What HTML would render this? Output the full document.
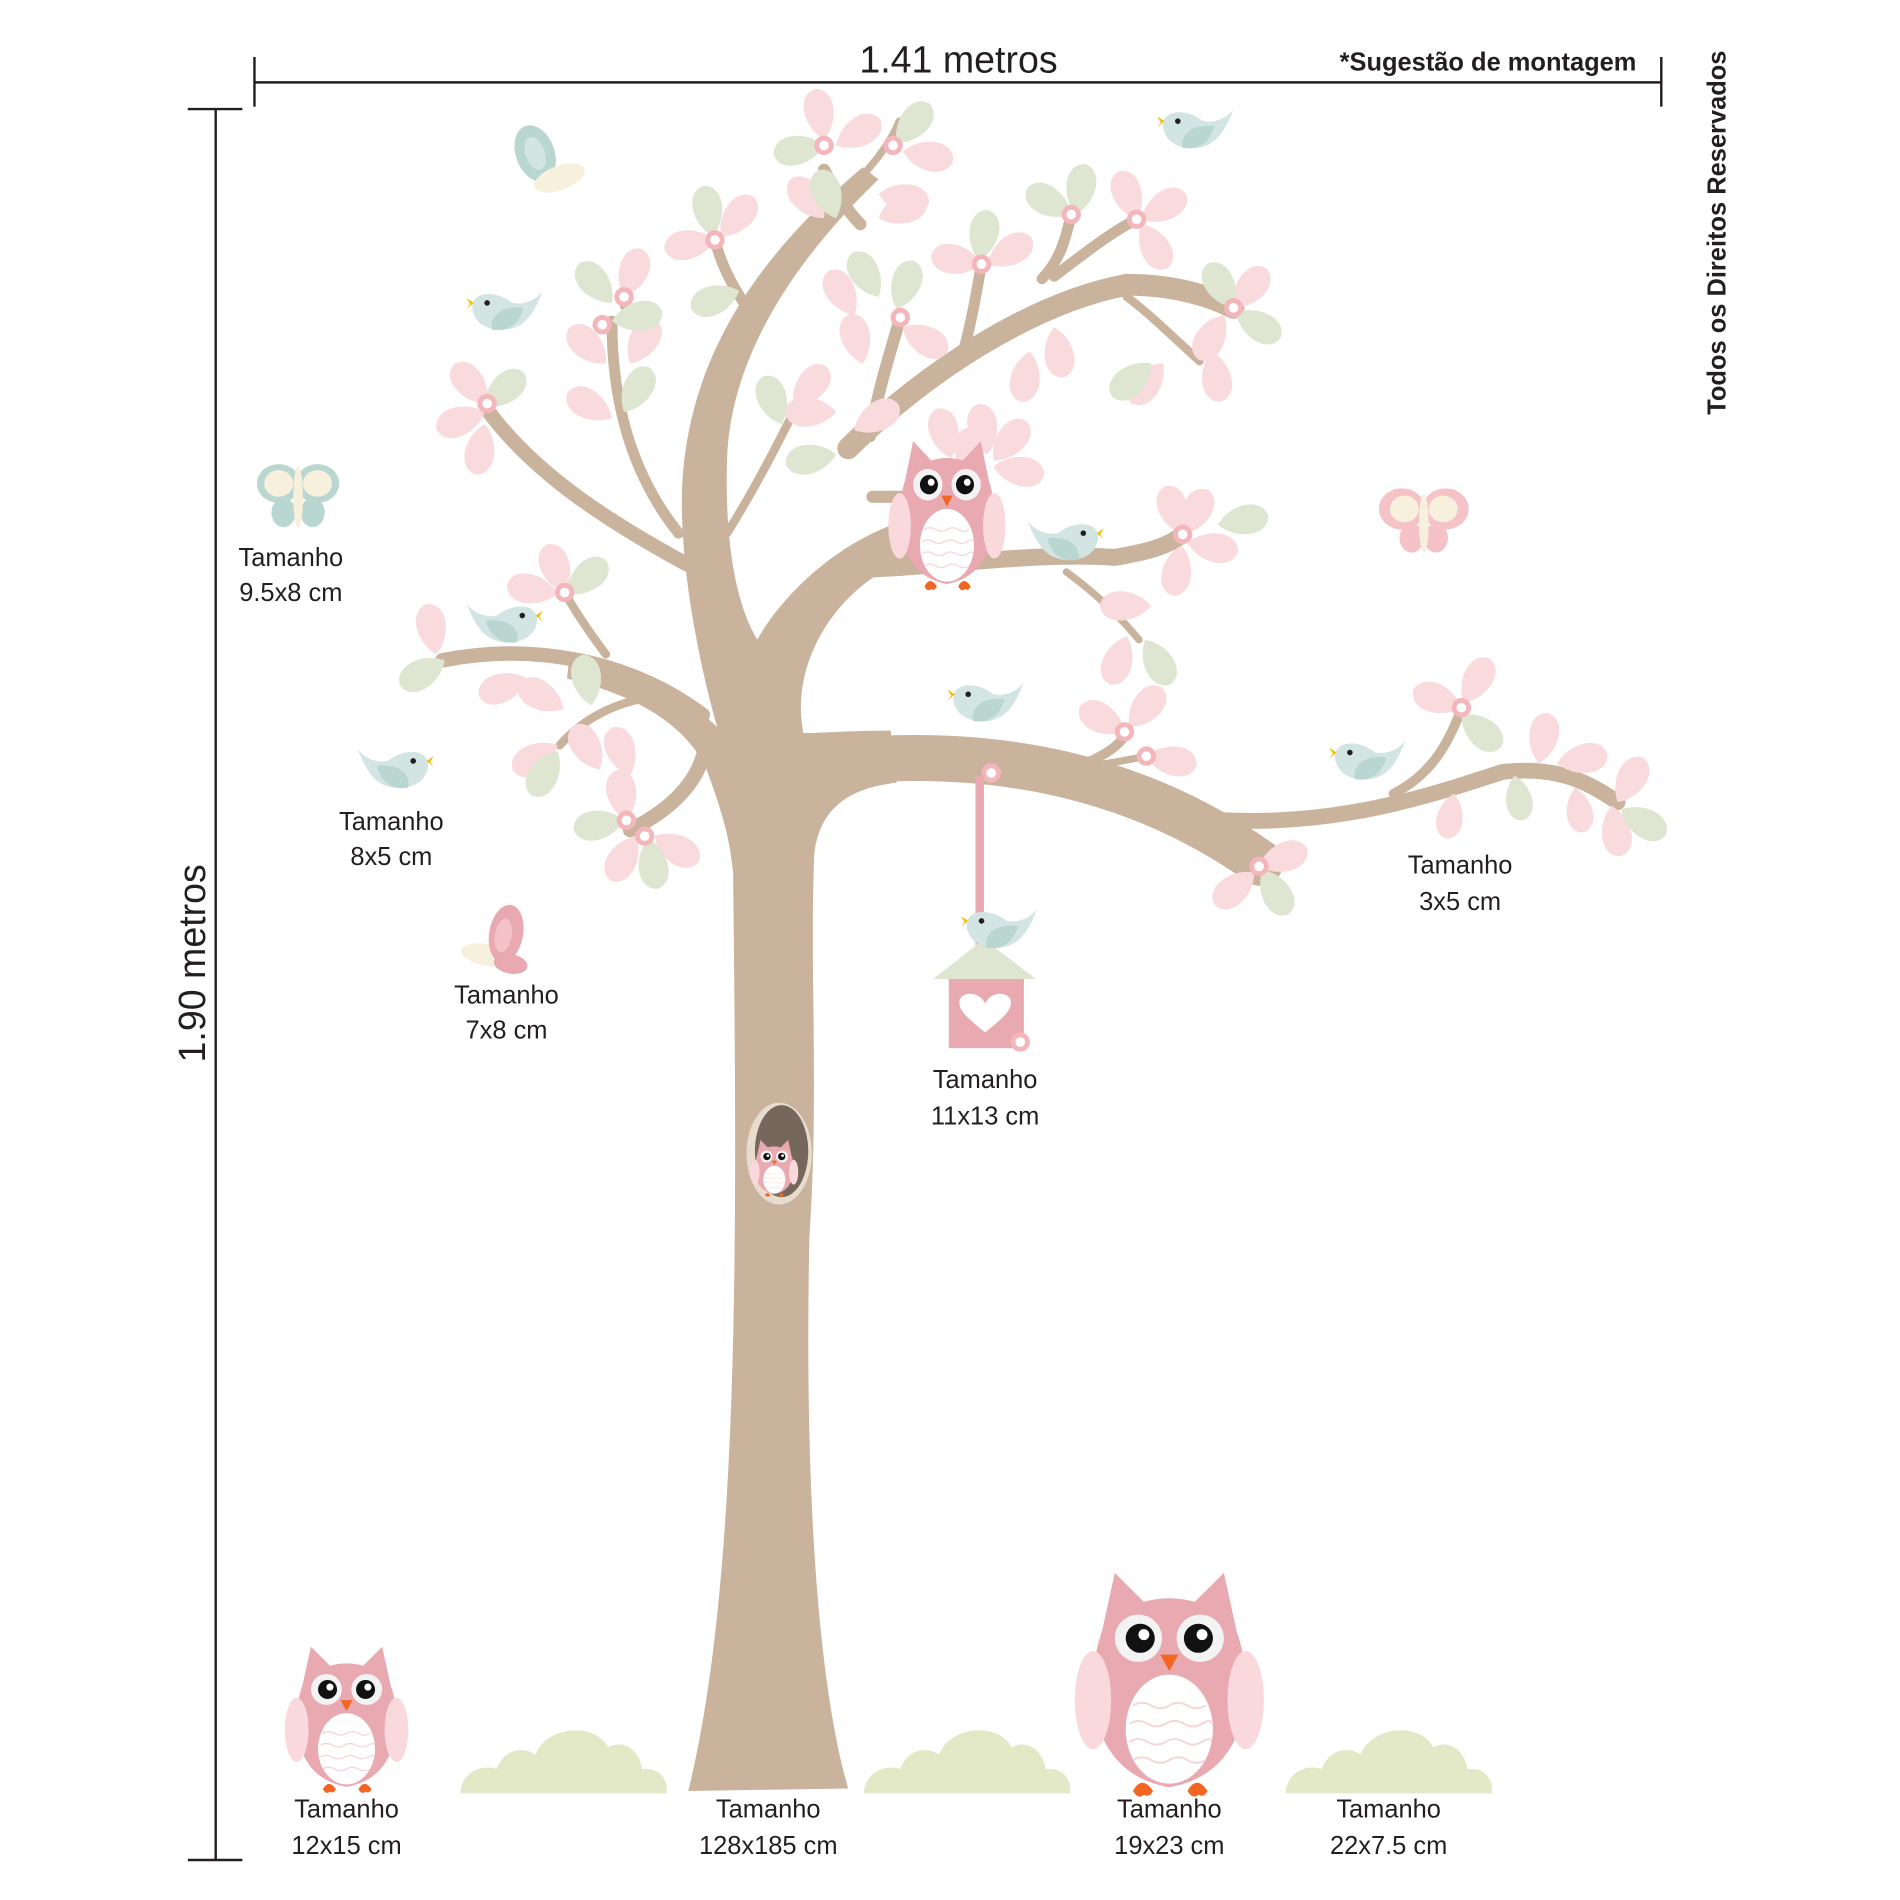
<!DOCTYPE html>
<html><head><meta charset="utf-8"><style>
html,body{margin:0;padding:0;background:#fff}
svg{display:block}
text{font-family:"Liberation Sans",sans-serif;fill:#231f20}
</style></head><body>
<svg width="1900" height="1900" viewBox="0 0 1568 1568" xmlns="http://www.w3.org/2000/svg">
<defs>
<path id="lf" d="M0,0 C-17,-14 -19,-44 0,-47 C19,-44 17,-14 0,0Z"/>
<g id="fl"><circle r="8" fill="#f4b6bb"/><circle r="4" fill="#fff"/></g>
<g id="bird">
<path d="M-30,-22 C-22,-2 -15,8 0,10 C20,12 30,0 28,-12 C24,-22 8,-22 -5,-12 C-15,-10 -25,-15 -30,-22Z" fill="#d3e5e2"/>
<path d="M-14,-8 C-10,8 2,12 12,10 C14,0 6,-10 -14,-8Z" fill="#b9d6d1"/>
<circle cx="16" cy="-12" r="2.3" fill="#231f20"/>
<path d="M27,-12 L33,-16 L30,-11 L33,-7Z" fill="#f5c000"/>
</g>
<g id="owl">
<path d="M13,34 L20,2 L36,18 Q50,14 64,18 L80,2 L87,34 C97,62 96,112 50,120 C4,112 3,62 13,34Z" fill="#e8a9b0"/>
<ellipse cx="8" cy="72" rx="10" ry="27" fill="#f9d9dc"/>
<ellipse cx="92" cy="72" rx="10" ry="27" fill="#f9d9dc"/>
<ellipse cx="50" cy="88" rx="24" ry="30" fill="#fff"/>
<path d="M30,75 q5,-3 10,0 t10,0 t10,0 t10,0 M28,85 q5,-3 10,0 t10,0 t10,0 t10,0 t5,0 M28,95 q5,-3 10,0 t10,0 t10,0 t10,0 t5,0 M30,105 q5,-3 10,0 t10,0 t10,0 t10,0" stroke="#f6d3d7" stroke-width="1" fill="none"/>
<circle cx="33" cy="38" r="13" fill="#f3f3f3"/><circle cx="67" cy="38" r="13" fill="#f3f3f3"/>
<circle cx="34" cy="38" r="8" fill="#111"/><circle cx="66" cy="38" r="8" fill="#111"/>
<circle cx="36" cy="36" r="3" fill="#fff"/><circle cx="68" cy="36" r="3" fill="#fff"/>
<path d="M45,47 L55,47 L50,56Z" fill="#f26522"/>
<path d="M30,122 q5,-9 11,0 q-2,4 -5,2 q-3,3 -6,-2Z M60,122 q5,-9 11,0 q-2,4 -5,2 q-3,3 -6,-2Z" fill="#f26522"/>
</g>
<path id="bush" d="M0,60 C0,45 15,35 30,40 C35,25 50,20 62,28 C70,5 110,0 122,22 C135,15 148,25 150,40 C165,38 172,50 170,60Z" fill="#e3e9c6"/>
</defs>

<g stroke="#231f20" stroke-width="2" fill="none">
<line x1="210" y1="68" x2="1371" y2="68"/><line x1="210" y1="47" x2="210" y2="88"/><line x1="1371" y1="47" x2="1371" y2="88"/>
<line x1="178" y1="90" x2="178" y2="1535"/><line x1="155" y1="90" x2="200" y2="90"/><line x1="155" y1="1535" x2="200" y2="1535"/>
</g>
<text x="791" y="60" font-size="31" text-anchor="middle">1.41 metros</text>
<text x="1228" y="58" font-size="21" font-weight="bold" text-anchor="middle">*Sugestão de montagem</text>
<text transform="translate(169,795) rotate(-90)" font-size="31" text-anchor="middle">1.90 metros</text>
<text transform="translate(1424,192) rotate(-90)" font-size="21" font-weight="bold" text-anchor="middle">Todos os Direitos Reservados</text>

<g fill="#c9b39c" stroke="none">
<path d="M568,1478 L700,1476 C672,1380 664,1200 668,1020 C676,900 668,800 672,705 C676,668 700,650 740,646 L735,603 C700,603 680,605 663,605 C650,540 700,470 770,455 L765,425 C690,440 640,500 625,528 C608,500 598,450 600,380 C602,300 650,220 725,148 L712,138 C620,215 568,300 563,400 C560,470 580,560 592,600 C560,570 520,548 470,540 L468,560 C530,575 565,600 582,632 C600,680 603,700 605,720 C608,1000 612,1300 568,1478Z"/>
</g>
<g stroke="#c9b39c" fill="none" stroke-linecap="round">
<path d="M700,628 C850,615 960,655 1040,712" stroke-width="38"/>
<path d="M960,672 C1080,690 1170,660 1240,637 C1285,632 1310,645 1335,662" stroke-width="13"/>
<path d="M1150,655 C1180,640 1195,615 1206,585" stroke-width="8"/>
<path d="M890,632 C910,625 925,615 930,604" stroke-width="8"/>
<path d="M890,633 C920,630 940,625 946,624" stroke-width="6"/>
<path d="M700,470 C760,470 850,455 920,460 C950,455 965,450 976,441" stroke-width="14"/>
<path d="M880,472 C905,490 925,510 940,528" stroke-width="6"/>
<path d="M720,410 L760,410" stroke-width="10"/>
<path d="M700,370 C760,310 850,250 930,235 C970,235 1000,245 1018,254" stroke-width="18"/>
<path d="M930,245 C950,260 970,280 990,298" stroke-width="7"/>
<path d="M860,230 C875,215 880,195 884,177" stroke-width="9"/>
<path d="M870,228 C900,205 920,190 938,181" stroke-width="9"/>
<path d="M795,290 C802,265 806,240 810,218" stroke-width="9"/>
<path d="M718,360 C725,320 735,290 743,262" stroke-width="10"/>
<path d="M600,440 C625,400 645,360 660,330" stroke-width="7"/>
<path d="M680,140 C690,160 700,175 710,185" stroke-width="10"/>
<path d="M690,170 C705,150 730,130 742,100" stroke-width="6"/>
<path d="M625,265 C605,240 595,218 590,198" stroke-width="9"/>
<path d="M560,440 C520,390 505,330 505,265" stroke-width="9"/>
<path d="M520,265 L512,248" stroke-width="5"/>
<path d="M575,470 C500,430 440,390 402,338" stroke-width="12"/>
<path d="M580,590 C520,545 440,530 365,545" stroke-width="12"/>
<path d="M500,540 C485,520 475,505 466,489" stroke-width="7"/>
<path d="M540,575 C500,580 475,600 462,615" stroke-width="7"/>
<path d="M583,610 C580,640 560,665 520,685" stroke-width="12"/>
</g>
<ellipse cx="643" cy="952" rx="27" ry="42" fill="#e8dccf"/>
<ellipse cx="645" cy="950" rx="22" ry="38" fill="#75675b"/>
<use href="#owl" transform="translate(620,940) scale(0.38)"/>

<g fill="#f9dbde">
<use href="#lf" transform="translate(680,115) rotate(-10) scale(0.9)"/>
<use href="#lf" transform="translate(690,120) rotate(60) scale(0.9)"/>
<use href="#lf" transform="translate(745,125) rotate(100) scale(0.9)"/>
<use href="#lf" transform="translate(725,180) rotate(70) scale(0.9)"/>
<use href="#lf" transform="translate(725,160) rotate(100) scale(0.9)"/>
<use href="#lf" transform="translate(680,180) rotate(-40) scale(0.9)"/>
<use href="#lf" transform="translate(590,198) rotate(-100) scale(0.9)"/>
<use href="#lf" transform="translate(595,195) rotate(40) scale(0.9)"/>
<use href="#lf" transform="translate(515,245) rotate(20) scale(0.9)"/>
<use href="#lf" transform="translate(500,300) rotate(-45) scale(0.9)"/>
<use href="#lf" transform="translate(505,345) rotate(-60) scale(0.9)"/>
<use href="#lf" transform="translate(520,300) rotate(30) scale(0.9)"/>
<use href="#lf" transform="translate(402,333) rotate(-40) scale(0.9)"/>
<use href="#lf" transform="translate(400,340) rotate(-110) scale(0.9)"/>
<use href="#lf" transform="translate(400,350) rotate(190) scale(0.9)"/>
<use href="#lf" transform="translate(705,260) rotate(-30) scale(0.9)"/>
<use href="#lf" transform="translate(712,300) rotate(-15) scale(0.9)"/>
<use href="#lf" transform="translate(745,270) rotate(120) scale(0.9)"/>
<use href="#lf" transform="translate(810,218) rotate(-80) scale(0.9)"/>
<use href="#lf" transform="translate(815,218) rotate(60) scale(0.9)"/>
<use href="#lf" transform="translate(690,340) rotate(-90) scale(0.9)"/>
<use href="#lf" transform="translate(655,335) rotate(40) scale(0.9)"/>
<use href="#lf" transform="translate(705,355) rotate(60) scale(0.9)"/>
<use href="#lf" transform="translate(938,181) rotate(-20) scale(0.9)"/>
<use href="#lf" transform="translate(942,181) rotate(60) scale(0.9)"/>
<use href="#lf" transform="translate(942,185) rotate(150) scale(0.9)"/>
<use href="#lf" transform="translate(1018,254) rotate(40) scale(0.9)"/>
<use href="#lf" transform="translate(1010,260) rotate(-150) scale(0.9)"/>
<use href="#lf" transform="translate(1000,290) rotate(170) scale(0.9)"/>
<use href="#lf" transform="translate(960,300) rotate(-140) scale(0.9)"/>
<use href="#lf" transform="translate(870,270) rotate(170) scale(0.9)"/>
<use href="#lf" transform="translate(850,290) rotate(190) scale(0.9)"/>
<use href="#lf" transform="translate(815,375) rotate(-10) scale(0.9)"/>
<use href="#lf" transform="translate(820,380) rotate(40) scale(0.9)"/>
<use href="#lf" transform="translate(820,385) rotate(100) scale(0.9)"/>
<use href="#lf" transform="translate(785,378) rotate(-15) scale(0.9)"/>
<use href="#lf" transform="translate(976,441) rotate(-20) scale(0.9)"/>
<use href="#lf" transform="translate(976,441) rotate(30) scale(0.9)"/>
<use href="#lf" transform="translate(980,448) rotate(100) scale(0.9)"/>
<use href="#lf" transform="translate(975,450) rotate(190) scale(0.9)"/>
<use href="#lf" transform="translate(950,500) rotate(-90) scale(0.9)"/>
<use href="#lf" transform="translate(930,525) rotate(200) scale(0.9)"/>
<use href="#lf" transform="translate(466,489) rotate(-20) scale(0.9)"/>
<use href="#lf" transform="translate(460,490) rotate(-80) scale(0.9)"/>
<use href="#lf" transform="translate(360,540) rotate(-10) scale(0.9)"/>
<use href="#lf" transform="translate(435,560) rotate(-110) scale(0.9)"/>
<use href="#lf" transform="translate(465,585) rotate(-60) scale(0.9)"/>
<use href="#lf" transform="translate(460,615) rotate(-120) scale(0.9)"/>
<use href="#lf" transform="translate(495,635) rotate(-30) scale(0.9)"/>
<use href="#lf" transform="translate(517,677) rotate(-10) scale(0.9)"/>
<use href="#lf" transform="translate(520,640) rotate(-20) scale(0.9)"/>
<use href="#lf" transform="translate(525,690) rotate(210) scale(0.9)"/>
<use href="#lf" transform="translate(540,690) rotate(120) scale(0.9)"/>
<use href="#lf" transform="translate(928,604) rotate(-60) scale(0.9)"/>
<use href="#lf" transform="translate(932,600) rotate(40) scale(0.9)"/>
<use href="#lf" transform="translate(946,624) rotate(100) scale(0.9)"/>
<use href="#lf" transform="translate(1206,584) rotate(-70) scale(0.9)"/>
<use href="#lf" transform="translate(1208,580) rotate(30) scale(0.9)"/>
<use href="#lf" transform="translate(1270,630) rotate(10) scale(0.9)"/>
<use href="#lf" transform="translate(1285,630) rotate(80) scale(0.9)"/>
<use href="#lf" transform="translate(1335,662) rotate(30) scale(0.9)"/>
<use href="#lf" transform="translate(1330,665) rotate(170) scale(0.9)"/>
<use href="#lf" transform="translate(1300,650) rotate(170) scale(0.8)"/>
<use href="#lf" transform="translate(1200,655) rotate(190) scale(0.8)"/>
<use href="#lf" transform="translate(1039,715) rotate(70) scale(0.9)"/>
<use href="#lf" transform="translate(1035,720) rotate(-130) scale(0.9)"/>
<use href="#lf" transform="translate(800,395) rotate(0) scale(0.9)"/>
</g>
<g fill="#dee6d2">
<use href="#lf" transform="translate(680,120) rotate(-100) scale(0.9)"/>
<use href="#lf" transform="translate(740,118) rotate(40) scale(0.9)"/>
<use href="#lf" transform="translate(588,195) rotate(-10) scale(0.9)"/>
<use href="#lf" transform="translate(610,240) rotate(-110) scale(0.9)"/>
<use href="#lf" transform="translate(690,180) rotate(-20) scale(0.9)"/>
<use href="#lf" transform="translate(505,250) rotate(-40) scale(0.9)"/>
<use href="#lf" transform="translate(505,265) rotate(80) scale(0.9)"/>
<use href="#lf" transform="translate(515,340) rotate(30) scale(0.9)"/>
<use href="#lf" transform="translate(400,335) rotate(50) scale(0.9)"/>
<use href="#lf" transform="translate(740,255) rotate(20) scale(0.9)"/>
<use href="#lf" transform="translate(725,245) rotate(-30) scale(0.9)"/>
<use href="#lf" transform="translate(808,215) rotate(10) scale(0.9)"/>
<use href="#lf" transform="translate(645,350) rotate(-20) scale(0.9)"/>
<use href="#lf" transform="translate(690,375) rotate(-100) scale(0.9)"/>
<use href="#lf" transform="translate(884,177) rotate(-60) scale(0.9)"/>
<use href="#lf" transform="translate(888,177) rotate(10) scale(0.9)"/>
<use href="#lf" transform="translate(1018,254) rotate(-30) scale(0.9)"/>
<use href="#lf" transform="translate(1020,258) rotate(120) scale(0.9)"/>
<use href="#lf" transform="translate(950,300) rotate(-130) scale(0.9)"/>
<use href="#lf" transform="translate(1005,433) rotate(80) scale(0.9)"/>
<use href="#lf" transform="translate(945,528) rotate(150) scale(0.9)"/>
<use href="#lf" transform="translate(468,490) rotate(50) scale(0.9)"/>
<use href="#lf" transform="translate(367,545) rotate(-120) scale(0.9)"/>
<use href="#lf" transform="translate(488,582) rotate(-10) scale(0.9)"/>
<use href="#lf" transform="translate(460,620) rotate(210) scale(0.9)"/>
<use href="#lf" transform="translate(515,677) rotate(-100) scale(0.9)"/>
<use href="#lf" transform="translate(535,692) rotate(170) scale(0.9)"/>
<use href="#lf" transform="translate(1206,590) rotate(130) scale(0.9)"/>
<use href="#lf" transform="translate(1250,640) rotate(170) scale(0.8)"/>
<use href="#lf" transform="translate(1338,668) rotate(120) scale(0.9)"/>
<use href="#lf" transform="translate(1042,718) rotate(150) scale(0.9)"/>
</g>
<g>
<use href="#fl" x="680" y="120"/><use href="#fl" x="737" y="120"/><use href="#fl" x="590" y="198"/>
<use href="#fl" x="515" y="245"/><use href="#fl" x="497" y="268"/><use href="#fl" x="402" y="333"/>
<use href="#fl" x="810" y="218"/><use href="#fl" x="884" y="177"/><use href="#fl" x="938" y="181"/>
<use href="#fl" x="1018" y="254"/><use href="#fl" x="743" y="262"/><use href="#fl" x="976" y="441"/>
<use href="#fl" x="466" y="489"/><use href="#fl" x="517" y="677"/><use href="#fl" x="532" y="690"/>
<use href="#fl" x="928" y="604"/><use href="#fl" x="946" y="624"/><use href="#fl" x="1206" y="584"/>
<use href="#fl" x="1039" y="715"/><use href="#fl" x="818" y="638"/>
</g>

<rect x="805" y="640" width="7" height="140" fill="#e8a9b0"/>
<path d="M770,808 L812,775 L855,808Z" fill="#dee6d2"/>
<rect x="783" y="808" width="62" height="57" fill="#e8a9b0"/>
<path d="M813,852 C798,840 790,833 792,825 C795,818 808,818 813,828 C818,818 831,818 834,825 C836,833 828,840 813,852Z" fill="#fff"/>
<use href="#fl" x="842" y="860"/>

<use href="#owl" transform="translate(735,362) scale(0.93,1)"/>
<use href="#owl" transform="translate(237,1357) scale(0.98)"/>
<use href="#owl" transform="translate(890,1295) scale(1.5)"/>

<use href="#bird" transform="translate(988,112) scale(-1,1)"/>
<use href="#bird" transform="translate(418,262) scale(-1,1)"/>
<use href="#bird" transform="translate(415,520)"/>
<use href="#bird" transform="translate(325,640)"/>
<use href="#bird" transform="translate(878,452)"/>
<use href="#bird" transform="translate(815,585) scale(-1,1)"/>
<use href="#bird" transform="translate(1130,633) scale(-1,1)"/>
<use href="#bird" transform="translate(826,772) scale(-1,1)"/>

<g transform="translate(450,132) rotate(-20)">
<ellipse cx="-6" cy="-8" rx="16" ry="24" fill="#b9d6d1"/><ellipse cx="-6" cy="-8" rx="8" ry="14" fill="#d3e5e2"/>
<ellipse cx="6" cy="18" rx="22" ry="10" fill="#f6f0dc"/>
</g>
<g transform="translate(246,405)">
<ellipse cx="-16" cy="-6" rx="18" ry="16" fill="#b9d6d1"/><ellipse cx="16" cy="-6" rx="18" ry="16" fill="#b9d6d1"/>
<ellipse cx="-16" cy="-6" rx="12" ry="11" fill="#f6f0dc"/><ellipse cx="16" cy="-6" rx="12" ry="11" fill="#f6f0dc"/>
<ellipse cx="-12" cy="18" rx="10" ry="12" fill="#b9d6d1"/><ellipse cx="12" cy="18" rx="10" ry="12" fill="#b9d6d1"/>
<ellipse cx="0" cy="5" rx="4" ry="25" fill="#f6f0dc"/>
</g>
<g transform="translate(1175,428)">
<ellipse cx="-18" cy="-8" rx="19" ry="17" fill="#f4c2c7"/><ellipse cx="18" cy="-8" rx="19" ry="17" fill="#f4c2c7"/>
<ellipse cx="-16" cy="-8" rx="12" ry="11" fill="#f6f0dc"/><ellipse cx="16" cy="-8" rx="12" ry="11" fill="#f6f0dc"/>
<ellipse cx="-10" cy="16" rx="10" ry="12" fill="#f4c2c7"/><ellipse cx="10" cy="16" rx="10" ry="12" fill="#f4c2c7"/>
<ellipse cx="0" cy="4" rx="4" ry="24" fill="#f6f0dc"/>
</g>
<g transform="translate(414,780) rotate(10)">
<ellipse cx="-10" cy="10" rx="22" ry="9" fill="#f6f0dc"/>
<ellipse cx="2" cy="-10" rx="14" ry="24" fill="#e8a9b0"/><ellipse cx="0" cy="-8" rx="7" ry="14" fill="#f4c2c7"/>
<ellipse cx="10" cy="14" rx="14" ry="8" fill="#e8a9b0"/>
</g>

<use href="#bush" transform="translate(380,1420)"/>
<use href="#bush" transform="translate(713,1420)"/>
<use href="#bush" transform="translate(1061,1420)"/>

<g font-size="21" text-anchor="middle">
<text x="240" y="467">Tamanho</text><text x="240" y="496">9.5x8 cm</text>
<text x="323" y="685">Tamanho</text><text x="323" y="714">8x5 cm</text>
<text x="418" y="828">Tamanho</text><text x="418" y="857">7x8 cm</text>
<text x="813" y="898">Tamanho</text><text x="813" y="928">11x13 cm</text>
<text x="1205" y="721">Tamanho</text><text x="1205" y="751">3x5 cm</text>
<text x="286" y="1500">Tamanho</text><text x="286" y="1530">12x15 cm</text>
<text x="634" y="1500">Tamanho</text><text x="634" y="1530">128x185 cm</text>
<text x="965" y="1500">Tamanho</text><text x="965" y="1530">19x23 cm</text>
<text x="1146" y="1500">Tamanho</text><text x="1146" y="1530">22x7.5 cm</text>
</g>
</svg>
</body></html>
